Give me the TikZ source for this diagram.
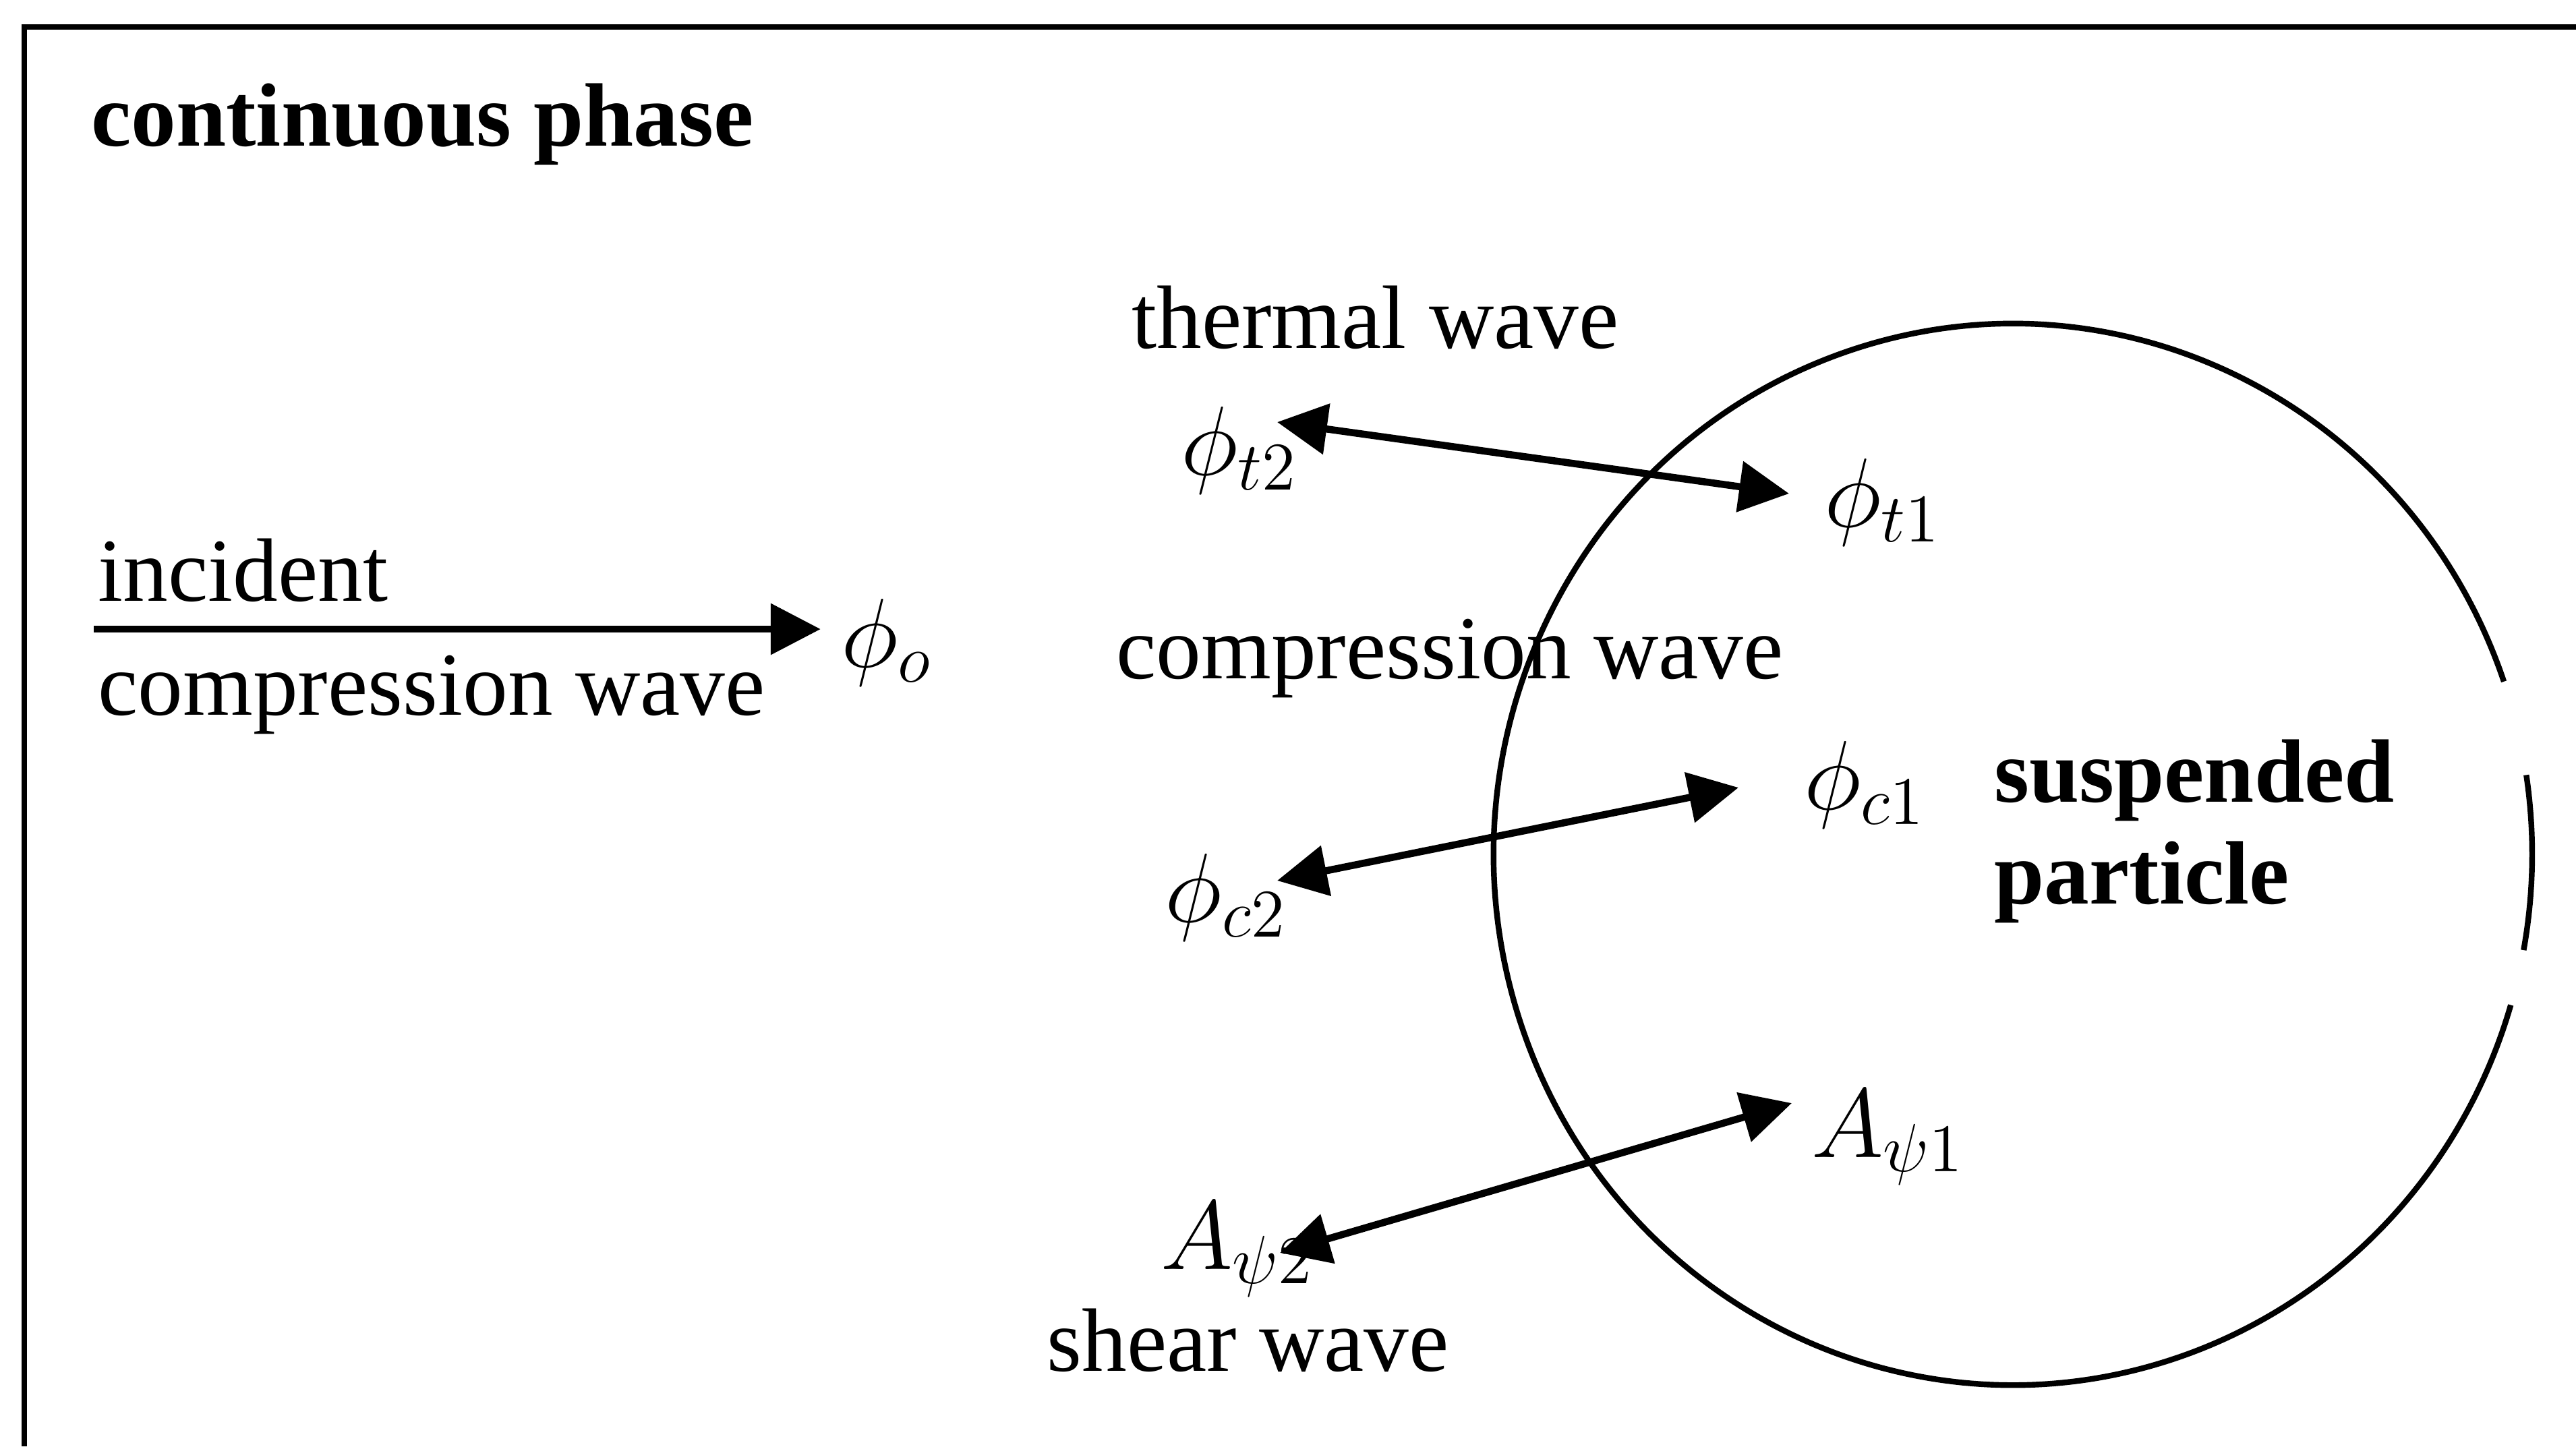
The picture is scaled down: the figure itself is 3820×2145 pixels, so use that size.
\documentclass[tikz,border=0pt]{standalone}
\usepackage{fontspec}
\setmainfont{Liberation Serif}
\usepackage{tikz}
\usetikzlibrary{arrows.meta, calc}
\tikzstyle{txt} = [inner sep=0pt, font=\fontsize{19}{23}\selectfont]
\tikzstyle{boldtxt} = [inner sep=0pt, align=left, font=\fontsize{19}{21.5}\selectfont\bfseries]
\tikzstyle{sym} = [inner sep=0pt, font=\fontsize{21}{25}\selectfont]
\tikzstyle{outline} = [draw, line width=1.2pt]
\tikzstyle{arrow} = [draw, -{Triangle[length=0.37cm, width=0.37cm]}, line width=1.5pt]
\tikzstyle{both} = [draw, {Triangle[length=0.37cm, width=0.37cm]}-{Triangle[length=0.37cm, width=0.37cm]}, line width=1.5pt]

\begin{document}
\begin{tikzpicture}[x=0.005cm, y=0.005cm]
    \useasboundingbox (0,0) rectangle (3820,-2145);
    % Frame of the continuous phase
    \draw [outline] (36,-2145) -- (36,-40) -- (3820,-40);

    % Particle
    \coordinate (ctr) at (2985,-1267);
    \draw [outline] ([shift={(19:770 and 787)}]ctr) arc[start angle=19, end angle=343.5, x radius=770, y radius=787];
    \draw [outline] ([shift={(-10.4:770 and 787)}]ctr) arc[start angle=-10.4, end angle=8.6, x radius=770, y radius=787];

    % Labels
    \node (phase) [boldtxt, anchor=base west] at (134,-216) {continuous phase};
    \node (incident) [txt, anchor=base west] at (144,-891) {incident};
    \node (incwave) [txt, anchor=base west] at (144,-1060) {compression wave};
    \node (thermal) [txt, anchor=base west] at (1677,-516) {thermal wave};
    \node (compr) [txt, anchor=base west] at (1654,-1006) {compression wave};
    \node (shear) [txt, anchor=base west] at (1551,-2033) {shear wave};
    \node (particle) [boldtxt, anchor=base west] at (2956,-1340) {suspended\\particle};

    % Potentials
    \node (phio) [sym] at (1315,-953) {$\phi_o$};
    \node (t2) [sym] at (1838,-668) {$\phi_{t2}$};
    \node (t1) [sym] at (2792,-745) {$\phi_{t1}$};
    \node (c2) [sym] at (1818,-1331) {$\phi_{c2}$};
    \node (c1) [sym] at (2765,-1164) {$\phi_{c1}$};
    \node (s2) [sym] at (1835,-1853) {$A_{\psi2}$};
    \node (s1) [sym] at (2800,-1687) {$A_{\psi1}$};

    % Waves
    \coordinate (incstart) at (139,-933);
    \draw [arrow] (incstart) -- ($(incstart -| phio.west)+(-29,0)$);
    \draw [both] ([shift={(56,42)}]t2.center) -- ([shift={(-139,13)}]t1.center);
    \draw [both] ([shift={(76,25)}]c2.center) -- ([shift={(-187,-4)}]c1.center);
    \draw [both] ([shift={(63,-5)}]s2.center) -- ([shift={(-143,51)}]s1.center);
\end{tikzpicture}
\end{document}
